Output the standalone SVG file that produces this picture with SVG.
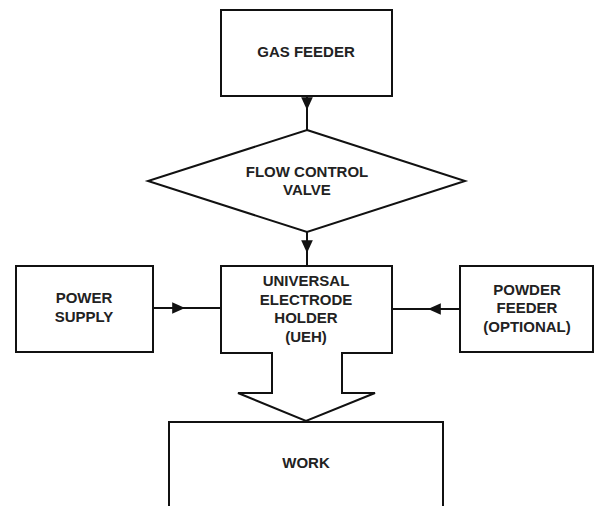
<svg xmlns="http://www.w3.org/2000/svg" width="594" height="506" viewBox="0 0 594 506">
<style>
.box{fill:#fff;stroke:#111;stroke-width:2}
.lbl{font-family:"Liberation Sans",Arial,sans-serif;font-weight:bold;font-size:15px;fill:#222;text-anchor:middle}
.conn{fill:none;stroke:#111;stroke-width:2}
</style>
<defs>
<marker id="ah" markerUnits="userSpaceOnUse" markerWidth="14" markerHeight="12" refX="11" refY="5" orient="auto" viewBox="0 0 12 10">
<path d="M0,0 L11,5 L0,10 Z" fill="#111"/>
</marker>
</defs>
<rect width="594" height="506" fill="#fff"/>
<g id="connectors">
<path class="conn" d="M307,96 L307,110 L307,130" marker-mid="url(#ah)"/>
<path class="conn" d="M307,232 L307,253 L307,266" marker-mid="url(#ah)"/>
<path class="conn" d="M153,308 L185,308 L221,308" marker-mid="url(#ah)"/>
<path class="conn" d="M460,309 L428,309 L392,309" marker-mid="url(#ah)"/>
</g>
<g id="gas-feeder">
<rect class="box" x="221" y="10" width="171" height="86"/>
<text class="lbl" x="306" y="57">GAS FEEDER</text>
</g>
<g id="flow-control-valve">
<polygon class="box" points="307,130 465,181 307,232 148,181"/>
<text class="lbl" x="307" y="177">FLOW CONTROL</text>
<text class="lbl" x="307" y="195">VALVE</text>
</g>
<g id="power-supply">
<rect class="box" x="16" y="266" width="137" height="86"/>
<text class="lbl" x="84" y="303">POWER</text>
<text class="lbl" x="84" y="322">SUPPLY</text>
</g>
<g id="ueh">
<path class="box" d="M221,266 H392 V353 H342 V393 H375 L306,421 L238,393 H272 V353 H221 Z"/>
<text class="lbl" x="306" y="286">UNIVERSAL</text>
<text class="lbl" x="306" y="304.5">ELECTRODE</text>
<text class="lbl" x="306" y="323">HOLDER</text>
<text class="lbl" x="306" y="341.5">(UEH)</text>
</g>
<g id="powder-feeder">
<rect class="box" x="460" y="266" width="133" height="86"/>
<text class="lbl" x="527" y="295">POWDER</text>
<text class="lbl" x="527" y="313">FEEDER</text>
<text class="lbl" x="527" y="331.5">(OPTIONAL)</text>
</g>
<g id="work">
<rect class="box" x="169" y="422" width="274" height="100"/>
<text class="lbl" x="306" y="468">WORK</text>
</g>
</svg>
